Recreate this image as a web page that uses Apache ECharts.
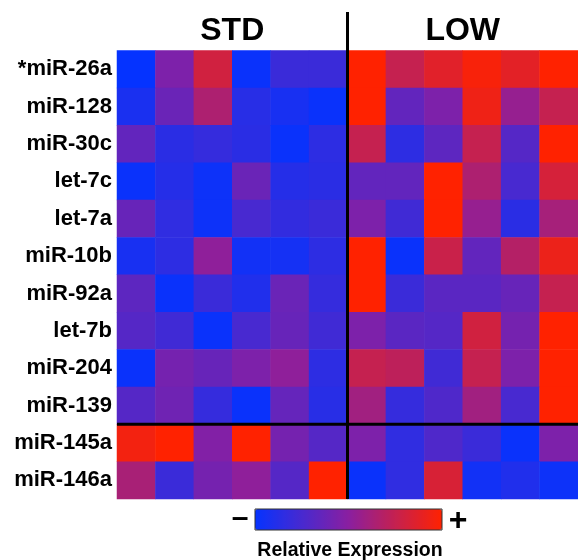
<!DOCTYPE html>
<html>
<head>
<meta charset="utf-8">
<script src="https://cdn.jsdelivr.net/npm/echarts@6/dist/echarts.min.js"></script>
<style>
  html, body { margin: 0; padding: 0; background: #fff; }
  #chart { width: 578px; height: 560px; }
</style>
</head>
<body>
<div id="chart"></div>
<script>
// rows of the heatmap, top to bottom
const mirnas = ['*miR-26a', 'miR-128', 'miR-30c', 'let-7c', 'let-7a', 'miR-10b',
  'miR-92a', 'let-7b', 'miR-204', 'miR-139', 'miR-145a', 'miR-146a']
const groups = ['STD', 'LOW']

// relative expression, 0 = lowest (blue), 1 = highest (red), 6 samples per group
const stdValues = [
  [0.00, 0.45, 0.80, 0.02, 0.20, 0.20],
  [0.08, 0.38, 0.65, 0.13, 0.07, 0.02],
  [0.35, 0.14, 0.18, 0.14, 0.02, 0.15],
  [0.02, 0.12, 0.03, 0.38, 0.12, 0.14],
  [0.37, 0.16, 0.03, 0.25, 0.17, 0.20],
  [0.07, 0.15, 0.52, 0.05, 0.06, 0.15],
  [0.33, 0.02, 0.20, 0.10, 0.38, 0.18],
  [0.30, 0.22, 0.02, 0.25, 0.37, 0.22],
  [0.02, 0.42, 0.37, 0.45, 0.52, 0.15],
  [0.30, 0.40, 0.18, 0.02, 0.36, 0.13],
  [0.95, 1.00, 0.47, 1.00, 0.42, 0.30],
  [0.63, 0.20, 0.42, 0.52, 0.30, 1.00]
]
const lowValues = [
  [1.00, 0.75, 0.87, 0.97, 0.88, 1.00],
  [1.00, 0.35, 0.45, 0.93, 0.55, 0.75],
  [0.75, 0.15, 0.33, 0.75, 0.30, 1.00],
  [0.35, 0.35, 1.00, 0.65, 0.25, 0.82],
  [0.45, 0.22, 1.00, 0.55, 0.14, 0.62],
  [1.00, 0.02, 0.77, 0.35, 0.68, 0.92],
  [1.00, 0.20, 0.32, 0.32, 0.37, 0.75],
  [0.45, 0.32, 0.30, 0.80, 0.42, 1.00],
  [0.75, 0.72, 0.22, 0.75, 0.45, 1.00],
  [0.60, 0.18, 0.28, 0.60, 0.25, 1.00],
  [0.45, 0.16, 0.28, 0.20, 0.02, 0.45],
  [0.02, 0.16, 0.83, 0.05, 0.10, 0.03]
]

const samples = []
groups.forEach(g => { for (let i = 1; i <= 6; i++) samples.push(g + i) })

const cells = []
mirnas.forEach((m, r) => {
  stdValues[r].forEach((v, c) => cells.push([c, r, v]))
  lowValues[r].forEach((v, c) => cells.push([c + 6, r, v]))
})

const font = '"Liberation Sans", Arial, Helvetica, sans-serif'
const chart = echarts.init(document.getElementById('chart'))

chart.setOption({
  animation: false,
  grid: { left: 117, top: 50.5, width: 461, height: 448.5 },
  xAxis: {
    type: 'category',
    data: samples,
    show: false
  },
  yAxis: {
    type: 'category',
    data: mirnas,
    inverse: true,
    axisLine: { show: false },
    axisTick: { show: false },
    splitLine: { show: false },
    axisLabel: {
      margin: 5,
      fontFamily: font,
      fontWeight: 'bold',
      fontSize: 22,
      color: '#000'
    }
  },
  visualMap: {
    type: 'continuous',
    min: 0,
    max: 1,
    orient: 'horizontal',
    left: 255,
    top: 509,
    padding: 0,
    itemWidth: 21,
    itemHeight: 187,
    calculable: false,
    showLabel: false,
    text: null,
    inRange: { color: ['#0533ff', '#8a1fa0', '#ff2200'] }
  },
  series: [{
    type: 'heatmap',
    data: cells,
    itemStyle: { borderWidth: 0 },
    emphasis: { disabled: true }
  }]
})

// separator lines between groups and between the last two rows
const colA = chart.convertToPixel({ gridIndex: 0 }, [5, 0])
const colB = chart.convertToPixel({ gridIndex: 0 }, [6, 0])
const rowA = chart.convertToPixel({ gridIndex: 0 }, [0, 9])
const rowB = chart.convertToPixel({ gridIndex: 0 }, [0, 10])
const rowLast = chart.convertToPixel({ gridIndex: 0 }, [0, 11])
const xSplit = (colA[0] + colB[0]) / 2
const ySplit = (rowA[1] + rowB[1]) / 2
const yBottom = rowLast[1] + (rowB[1] - rowA[1]) / 2

const titleStyle = { fontFamily: font, fontWeight: 'bold', fontSize: 32, fill: '#000' }

chart.setOption({
  graphic: [
    { type: 'line', z: 100, shape: { x1: xSplit, y1: 12, x2: xSplit, y2: yBottom }, style: { stroke: '#000', lineWidth: 3 } },
    { type: 'line', z: 100, shape: { x1: 117, y1: ySplit, x2: 578, y2: ySplit }, style: { stroke: '#000', lineWidth: 3 } },
    { type: 'text', x: (117 + xSplit) / 2, y: 47, style: Object.assign({ text: groups[0], align: 'center', verticalAlign: 'bottom' }, titleStyle) },
    { type: 'text', x: (xSplit + 578) / 2, y: 47, style: Object.assign({ text: groups[1], align: 'center', verticalAlign: 'bottom' }, titleStyle) },
    { type: 'rect', z: 100, shape: { x: 255, y: 509, width: 187, height: 21 }, style: { fill: 'none', stroke: '#333', lineWidth: 1 } },
    { type: 'text', x: 240, y: 519, style: { text: '–', align: 'center', verticalAlign: 'middle', fontFamily: font, fontWeight: 'bold', fontSize: 30, fill: '#000' } },
    { type: 'text', x: 458, y: 521, style: { text: '+', align: 'center', verticalAlign: 'middle', fontFamily: font, fontWeight: 'bold', fontSize: 32, fill: '#000' } },
    { type: 'text', x: 350, y: 551, style: { text: 'Relative Expression', align: 'center', verticalAlign: 'middle', fontFamily: font, fontWeight: 'bold', fontSize: 19.5, fill: '#000' } }
  ]
})
</script>
</body>
</html>
